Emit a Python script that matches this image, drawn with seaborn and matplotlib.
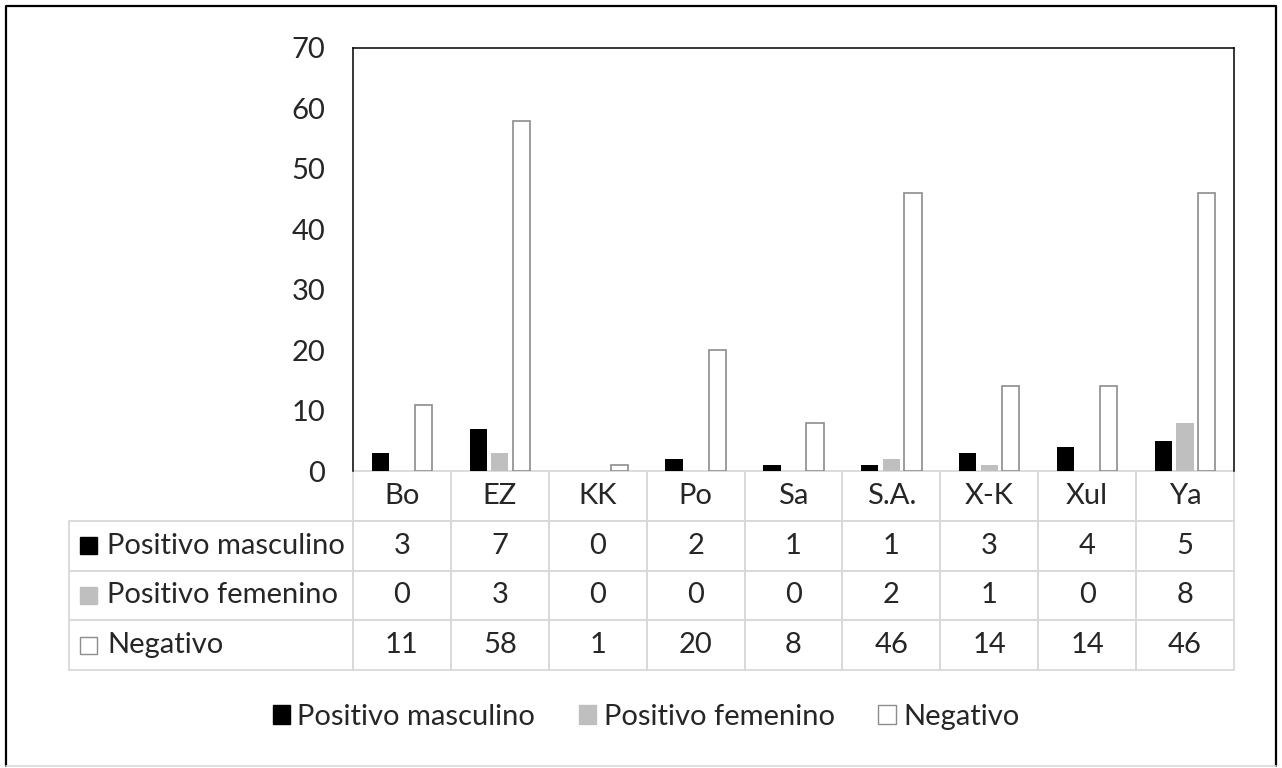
import numpy as np
import pandas as pd
import matplotlib
matplotlib.use("Agg")
import matplotlib.pyplot as plt
from matplotlib.patches import Rectangle
from matplotlib.lines import Line2D
import seaborn as sns

# ---- data -------------------------------------------------------------
categories = ["Bo", "EZ", "KK", "Po", "Sa", "S.A.", "X-K", "Xul", "Ya"]
series = ["Positivo masculino", "Positivo femenino", "Negativo"]
pos_masc = [3, 7, 0, 2, 1, 1, 3, 4, 5]
pos_fem = [0, 3, 0, 0, 0, 2, 1, 0, 8]
negativo = [11, 58, 1, 20, 8, 46, 14, 14, 46]
yticks = [0, 10, 20, 30, 40, 50, 60, 70]

# ---- style ------------------------------------------------------------
fills = ["#000000", "#BFBFBF", "#FFFFFF"]
edges = ["#000000", "#BFBFBF", "#8C8C8C"]
edge_w = [0, 0, 1.2]
TEXT = "#262626"
GRID = "#D9D9D9"
FS = 21

sns.set_theme(style="white")
plt.rcParams["font.family"] = ["Lato", "DejaVu Sans"]

W, H = 1282, 768
fig = plt.figure(figsize=(W / 100, H / 100), dpi=100)

# layout in pixels
AX_L, AX_R, AX_T, AX_B = 353, 1234, 48, 471
TB_L, TB_B = 69, 670

ax = fig.add_axes([AX_L / W, 1 - AX_B / H, (AX_R - AX_L) / W, (AX_B - AX_T) / H])

df = pd.DataFrame({
    "Sitio": categories * len(series),
    "Valor": pos_masc + pos_fem + negativo,
    "Serie": np.repeat(series, len(categories)),
})

sns.barplot(data=df, x="Sitio", y="Valor", hue="Serie", order=categories,
            hue_order=series, palette=fills, saturation=1, width=0.66,
            gap=0.2, legend=False, ax=ax)

for cont, fc, ec, lw in zip(ax.containers, fills, edges, edge_w):
    for bar in cont:
        bar.set_facecolor(fc)
        bar.set_edgecolor(ec)
        bar.set_linewidth(lw)

ax.set_ylim(0, 70)
ax.set_yticks(yticks)
ax.set_xlabel("")
ax.set_ylabel("")
ax.tick_params(axis="y", length=0, pad=20, labelsize=FS, labelcolor=TEXT)
ax.tick_params(axis="x", bottom=False, labelbottom=False)
for side in ("top", "left", "right"):
    ax.spines[side].set_visible(True)
    ax.spines[side].set_color("#000000")
    ax.spines[side].set_linewidth(1.1)
ax.spines["bottom"].set_visible(False)
ax.grid(False)

# ---- data table under the plot ----------------------------------------
ax_w = AX_R - AX_L
ax_h = AX_B - AX_T
label_w = AX_L - TB_L
cell_text = [[name] + [str(v) for v in vals]
             for name, vals in zip(series, [pos_masc, pos_fem, negativo])]
tbl = ax.table(cellText=cell_text, colLabels=[""] + categories,
               colWidths=[label_w] + [ax_w / len(categories)] * len(categories),
               cellLoc="center",
               bbox=[(TB_L - AX_L) / ax_w, -(TB_B - AX_B) / ax_h,
                     (AX_R - TB_L) / ax_w, (TB_B - AX_B) / ax_h])
tbl.auto_set_font_size(False)
tbl.set_fontsize(FS)
for (r, c), cell in tbl.get_celld().items():
    cell.set_edgecolor(GRID)
    cell.set_linewidth(1.3)
    cell.set_facecolor("none")
    cell.get_text().set_color(TEXT)
    if r == 0 and c == 0:
        cell.visible_edges = "open"
    if c == 0 and r > 0:
        cell.get_text().set_horizontalalignment("left")
        cell.PAD = 38 / label_w

# colour keys in the row-label cells
row_h = (TB_B - AX_B) / (len(series) + 1)
KEY = 17
for i, (fc, ec) in enumerate(zip(fills, edges)):
    cy = AX_B + row_h * (i + 1.5)
    x0 = TB_L + 11
    fig.add_artist(Rectangle((x0 / W, 1 - (cy + KEY / 2) / H), KEY / W, KEY / H,
                             transform=fig.transFigure, facecolor=fc,
                             edgecolor=ec if fc == "#FFFFFF" else fc,
                             linewidth=1.0))

# ---- legend -----------------------------------------------------------
handles = [Rectangle((0, 0), 1, 1, facecolor=fc,
                     edgecolor=ec if fc == "#FFFFFF" else fc, linewidth=1.0)
           for fc, ec in zip(fills, edges)]
fig.legend(handles, series, loc="center", bbox_to_anchor=(646 / W, 1 - 717 / H),
           ncol=3, frameon=False, fontsize=FS, handlelength=0.6,
           handleheight=0.6, handletextpad=0.25, columnspacing=1.5,
           labelcolor=TEXT)

# ---- outer frame ------------------------------------------------------
fx0, fx1, fy0, fy1 = 6 / W, 1276 / W, 1 - 6 / H, 1 - 766 / H
fig.add_artist(Line2D([fx0, fx0, fx1, fx1], [fy1, fy0, fy0, fy1],
                      transform=fig.transFigure, color="#000000", linewidth=1.6))
fig.add_artist(Line2D([fx0, fx1], [fy1, fy1], transform=fig.transFigure,
                      color=GRID, linewidth=1.2))

fig.savefig("out.png", dpi=100, facecolor="white")
